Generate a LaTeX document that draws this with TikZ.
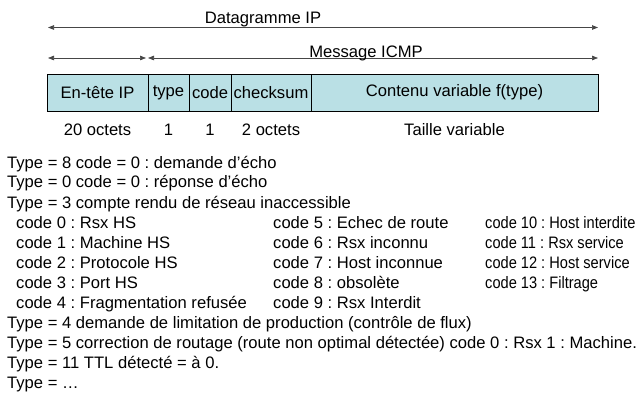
\documentclass[tikz,border=0pt]{standalone}
\usepackage{fontspec}
\setmainfont{Liberation Sans}
\newfontfamily\narrowfont[FakeStretch=0.88]{Liberation Sans}
\usetikzlibrary{arrows.meta}
\definecolor{cellfill}{RGB}{186,224,229}
\definecolor{arrowgray}{RGB}{70,70,70}
\frenchspacing
\begin{document}
\begin{tikzpicture}[x=1pt,y=-1pt,
  every node/.style={font=\fontsize{16.6}{20}\selectfont, inner sep=0pt},
  cell/.style={draw=black, line width=0.8pt, fill=cellfill, minimum height=37pt, anchor=center},
  dimarrow/.style={draw=arrowgray, line width=0.7pt, {Triangle[length=6pt,width=4.5pt]}-{Triangle[length=6pt,width=4.5pt]}},
  txt/.style={anchor=base west},
  ntxt/.style={anchor=base west, font=\fontsize{16.6}{20}\narrowfont},
  lbl/.style={anchor=base}]
\useasboundingbox (0,0) rectangle (643,393);
% arrows
\coordinate (dL) at (48,27.5);
\coordinate (dR) at (598,27.5);
\coordinate (mL) at (48,58);
\coordinate (mA) at (146,58);
\coordinate (mB) at (148,58);
\coordinate (mR) at (598,58);
\draw[dimarrow] (dL) -- (dR);
\draw[dimarrow] (mL) -- (mA);
\draw[dimarrow] (mB) -- (mR);
\node[lbl] (dlab) at (263,24) {Datagramme IP};
\node[lbl] (mlab) at (366,58) {Message ICMP};
% box
\node[cell, minimum width=101pt] (ip) at (97.5,92.5) {En-tête IP};
\node[cell, minimum width=41pt] (ty) at (168.5,92.5) {type};
\node[cell, minimum width=42pt] (cd) at (210,92.5) {code};
\node[cell, minimum width=80pt] (ck) at (271,92.5) {checksum};
\node[cell, minimum width=287pt] (ct) at (454.5,92.5) {Contenu variable f(type)};
% sizes
\node[lbl] (s1) at (97.5,136) {20 octets};
\node[lbl] (s2) at (168.5,136) {1};
\node[lbl] (s3) at (210,136) {1};
\node[lbl] (s4) at (271,136) {2 octets};
\node[lbl] (s5) at (454.5,136) {Taille variable};
% text lines
\node[txt] (t1) at (7,168) {Type = 8 code = 0 : demande d’écho};
\node[txt] (t2) at (7,188) {Type = 0 code = 0 : réponse d’écho};
\node[txt] (t3) at (7,208) {Type = 3 compte rendu de réseau inaccessible};
\node[txt] (c0) at (16,228) {code 0 : Rsx HS};
\node[txt] (c1) at (16,248) {code 1 : Machine HS};
\node[txt] (c2) at (16,268) {code 2 : Protocole HS};
\node[txt] (c3) at (16,288) {code 3 : Port HS};
\node[txt] (c4) at (16,308) {code 4 : Fragmentation refusée};
\node[txt] (c5) at (273,228) {code 5 : Echec de route};
\node[txt] (c6) at (273,248) {code 6 : Rsx inconnu};
\node[txt] (c7) at (273,268) {code 7 : Host inconnue};
\node[txt] (c8) at (273,288) {code 8 : obsolète};
\node[txt] (c9) at (273,308) {code 9 : Rsx Interdit};
\node[ntxt] (c10) at (485,228) {code 10 : Host interdite};
\node[ntxt] (c11) at (485,248) {code 11 : Rsx service};
\node[ntxt] (c12) at (485,268) {code 12 : Host service};
\node[ntxt] (c13) at (485,288) {code 13 : Filtrage};
\node[txt] (t4) at (7,328) {Type = 4 demande de limitation de production (contrôle de flux)};
\node[txt] (t5) at (7,348) {Type = 5 correction de routage (route non optimal détectée) code 0 : Rsx 1 : Machine.};
\node[txt] (t11) at (7,368) {Type = 11 TTL détecté = à 0.};
\node[txt] (tx) at (7,388) {Type = …};
\end{tikzpicture}
\end{document}
